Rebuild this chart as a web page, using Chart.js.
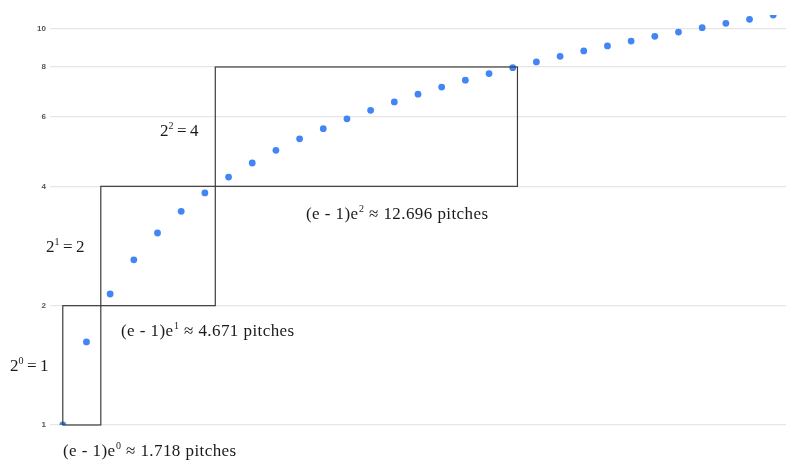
<!DOCTYPE html>
<html lang="en">
<head>
  <meta charset="UTF-8" />
  <title>Pitches per doubling</title>
  <script src="https://cdn.jsdelivr.net/npm/chart.js"></script>
  <style>
    html, body { margin: 0; padding: 0; background: #fff; overflow: hidden; }
    .chart-container { position: relative; width: 800px; height: 471px; }
  </style>
</head>
<body>
  <div class="chart-container">
    <canvas id="chartPitches" width="800" height="471"></canvas>
  </div>

  <script>
    // pitch index (x) and value (y)
    const pitches = [0, 1, 2, 3, 4, 5, 6, 7, 8, 9, 10, 11, 12, 13, 14, 15,
                     16, 17, 18, 19, 20, 21, 22, 23, 24, 25, 26, 27, 28, 29, 30];
    const values = [1.00, 1.62, 2.14, 2.61, 3.05, 3.46, 3.85, 4.22, 4.58, 4.93, 5.27,
                    5.59, 5.92, 6.22, 6.53, 6.83, 7.12, 7.41, 7.70, 7.97, 8.24,
                    8.51, 8.78, 9.04, 9.30, 9.56, 9.80, 10.05, 10.31, 10.55, 10.82];
    const yTicks = [1, 2, 4, 6, 8, 10];

    // the three doubling boxes: x from/to (pitches), y from/to
    const boxX0 = [0, 1.605, 6.44];
    const boxX1 = [1.605, 6.44, 19.2];
    const boxY0 = [1, 2, 4];
    const boxY1 = [2, 4, 8];

    // annotation texts: [before sup, sup, after sup]
    const powerLabels = [['2', '0', ' = 1'], ['2', '1', ' = 2'], ['2', '2', ' = 4']];
    const pitchLabels = [
      ['(e - 1)e', '0', ' \u2248 1.718 pitches'],
      ['(e - 1)e', '1', ' \u2248 4.671 pitches'],
      ['(e - 1)e', '2', ' \u2248 12.696 pitches']
    ];

    // where the texts sit (left, baseline) in pixels
    const powerPos = [[10, 371], [46, 252], [160, 136]];
    const pitchPos = [[63, 456], [121, 336], [306, 219]];

    const FONT = '"Liberation Serif", "DejaVu Serif", serif';
    const SIZE = 17;

    function drawSupText(ctx, parts, x, y, spacing) {
      ctx.letterSpacing = spacing + 'px';
      ctx.font = SIZE + 'px ' + FONT;
      ctx.fillText(parts[0], x, y);
      x += ctx.measureText(parts[0]).width + 0.5;
      ctx.font = '10px ' + FONT;
      ctx.fillText(parts[1], x, y - 7.5);
      x += ctx.measureText(parts[1]).width;
      ctx.font = SIZE + 'px ' + FONT;
      ctx.fillText(parts[2], x, y);
    }

    const annotations = {
      id: 'annotations',
      afterDatasetsDraw(chart) {
        const ctx = chart.ctx;
        const xs = chart.scales.x;
        const ys = chart.scales.y;
        ctx.save();
        ctx.strokeStyle = '#3c3c3c';
        ctx.lineWidth = 1.2;
        boxX0.forEach((x0, i) => {
          const l = xs.getPixelForValue(x0);
          const r = xs.getPixelForValue(boxX1[i]);
          const b = ys.getPixelForValue(boxY0[i]);
          const t = ys.getPixelForValue(boxY1[i]);
          ctx.strokeRect(l, t, r - l, b - t);
        });
        ctx.fillStyle = '#1a1a1a';
        ctx.textBaseline = 'alphabetic';
        ctx.textAlign = 'left';
        powerLabels.forEach((p, i) => drawSupText(ctx, p, powerPos[i][0], powerPos[i][1], -0.4));
        pitchLabels.forEach((p, i) => drawSupText(ctx, p, pitchPos[i][0], pitchPos[i][1], 0.42));
        ctx.restore();
      }
    };

    new Chart(document.getElementById('chartPitches'), {
      type: 'scatter',
      data: {
        datasets: [{
          data: pitches.map((p, i) => ({ x: p, y: values[i] })),
          backgroundColor: '#4285f4',
          borderColor: '#4285f4',
          pointRadius: 3.4,
          pointBorderWidth: 0,
          clip: 0
        }]
      },
      options: {
        responsive: false,
        animation: false,
        devicePixelRatio: 1,
        layout: { padding: { top: 15, right: 14, bottom: 46, left: 0 } },
        plugins: { legend: { display: false }, tooltip: { enabled: false } },
        scales: {
          x: { type: 'linear', min: -0.54, max: 30.54, display: false },
          y: {
            type: 'logarithmic',
            min: 1,
            max: 10.82,
            afterBuildTicks: axis => { axis.ticks = yTicks.map(v => ({ value: v })); },
            afterFit: axis => { axis.width = 50; },
            border: { display: false },
            grid: { color: '#e6e6e6', lineWidth: 1.3, drawTicks: false },
            ticks: {
              padding: 4,
              color: '#555',
              font: { family: 'Arial, "Liberation Sans", sans-serif', size: 8, weight: 'bold' },
              callback: v => String(v)
            }
          }
        }
      },
      plugins: [annotations]
    });
  </script>
</body>
</html>
